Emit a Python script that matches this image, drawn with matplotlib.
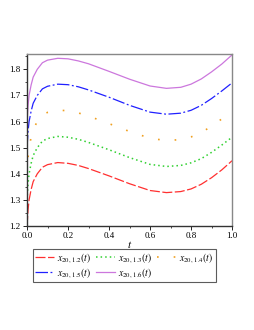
import numpy as np
import matplotlib.pyplot as plt
from matplotlib.ticker import MultipleLocator

plt.rcParams['font.family'] = ['Liberation Serif', 'DejaVu Serif']
plt.rcParams['mathtext.fontset'] = 'stix'

# t grid
t = [0.0, 0.005, 0.01, 0.02, 0.03, 0.05, 0.075, 0.1, 0.15, 0.2, 0.25, 0.3,
     0.4, 0.5, 0.6, 0.68, 0.75, 0.8, 0.85, 0.9, 0.95, 1.0]

# x_{20,a}(t)
x12 = [1.200, 1.262, 1.300, 1.340, 1.370, 1.400, 1.425, 1.435, 1.443, 1.440, 1.432, 1.420,
       1.392, 1.362, 1.336, 1.328, 1.332, 1.342, 1.360, 1.385, 1.415, 1.450]
x13 = [1.300, 1.362, 1.400, 1.440, 1.470, 1.500, 1.525, 1.535, 1.543, 1.540, 1.532, 1.520,
       1.492, 1.462, 1.436, 1.428, 1.432, 1.442, 1.458, 1.482, 1.510, 1.540]
x14 = [1.400, 1.462, 1.500, 1.540, 1.570, 1.600, 1.625, 1.635, 1.644, 1.641, 1.633, 1.621,
       1.592, 1.562, 1.536, 1.527, 1.531, 1.541, 1.558, 1.582, 1.610, 1.641]
x15 = [1.500, 1.562, 1.600, 1.640, 1.670, 1.700, 1.725, 1.735, 1.743, 1.741, 1.733, 1.721,
       1.693, 1.662, 1.636, 1.628, 1.632, 1.643, 1.662, 1.688, 1.717, 1.748]
x16 = [1.600, 1.662, 1.700, 1.740, 1.770, 1.800, 1.825, 1.835, 1.842, 1.840, 1.832, 1.821,
       1.792, 1.762, 1.736, 1.727, 1.731, 1.743, 1.763, 1.790, 1.820, 1.855]

fig = plt.figure(figsize=(2.55, 3.3), dpi=100)
ax = fig.add_axes([0.106, 0.315, 0.804, 0.521])

l12, = ax.plot(t, x12, color='#ff3030', lw=0.9, ls=(0, (8, 2)),
               label=r'$x_{20,\,1.2}(t)$')
l13, = ax.plot(t, x13, color='#30d030', lw=1.1, ls=(0, (1, 2)),
               label=r'$x_{20,\,1.3}(t)$')
l14, = ax.plot(t, x14, color='#f0a020', lw=1.2, ls=(0, (1, 9)),
               label=r'$x_{20,\,1.4}(t)$')
l15, = ax.plot(t, x15, color='#2020ff', lw=0.9, ls=(0, (10, 2, 1.5, 2)),
               label=r'$x_{20,\,1.5}(t)$')
l16, = ax.plot(t, x16, color='#cc77dd', lw=0.9, ls='-',
               label=r'$x_{20,\,1.6}(t)$')

ax.set_xlim(0, 1)
ax.set_ylim(1.2, 1.858)
ax.xaxis.set_major_locator(MultipleLocator(0.2))
ax.xaxis.set_minor_locator(MultipleLocator(0.1))
ax.yaxis.set_major_locator(MultipleLocator(0.1))
ax.yaxis.set_minor_locator(MultipleLocator(0.05))
ax.xaxis.set_major_formatter(plt.FormatStrFormatter('%.1f'))
ax.tick_params(labelsize=6.5, length=3, width=0.6, pad=1.5)
ax.tick_params(which='minor', length=1.5, width=0.5)
ax.set_xlabel('$t$', fontsize=8, labelpad=-1)
for s in ax.spines.values():
    s.set_color('#888888')
    s.set_linewidth(1.0)
ax.spines['bottom'].set_color('#333333')
ax.spines['left'].set_color('#333333')

handles = [l12, l15, l13, l16, l14]
leg = fig.legend(handles=handles, labels=[h.get_label() for h in handles],
                 ncol=3, loc='upper left', bbox_to_anchor=(0.13, 0.245),
                 fontsize=6.9, frameon=True, fancybox=False, edgecolor='#333333',
                 handlelength=2.0, handletextpad=0.3, columnspacing=0.5,
                 labelspacing=0.1, borderpad=0.2, borderaxespad=0)
leg.get_frame().set_linewidth(0.8)

plt.savefig('out.png', dpi=100)
